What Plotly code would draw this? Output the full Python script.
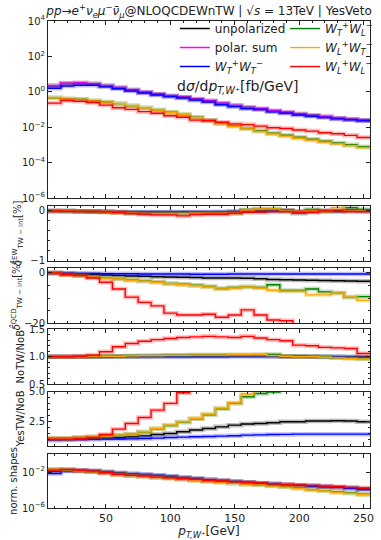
import plotly.graph_objects as go

# ---------------- data ----------------
bin_edges = [5, 15, 25, 35, 45, 55, 65, 75, 85, 95, 105, 115, 125, 135, 145,
             155, 165, 175, 185, 195, 205, 215, 225, 235, 245, 255]

series_names = ["unpolarized", "polar. sum",
                "<i>W</i><sub><i>T</i></sub><sup>+</sup><i>W</i><sub><i>T</i></sub><sup>−</sup>",
                "<i>W</i><sub><i>T</i></sub><sup>+</sup><i>W</i><sub><i>L</i></sub><sup>−</sup>",
                "<i>W</i><sub><i>L</i></sub><sup>+</sup><i>W</i><sub><i>T</i></sub><sup>−</sup>",
                "<i>W</i><sub><i>L</i></sub><sup>+</sup><i>W</i><sub><i>L</i></sub><sup>−</sup>"]

# main panel: dsigma/dpT [fb/GeV]
xs_unpol = [2.18, 2.95, 3.10, 2.82, 2.19, 1.70, 1.26, 0.935, 0.726, 0.577, 0.491, 0.381, 0.303,
            0.219, 0.167, 0.129, 0.108, 0.0834, 0.0678, 0.0551, 0.0459, 0.0390, 0.0318, 0.0276, 0.0246]
xs_sum = [2.24, 3.02, 3.16, 2.88, 2.24, 1.74, 1.29, 0.955, 0.741, 0.589, 0.501, 0.389, 0.309,
          0.224, 0.170, 0.132, 0.110, 0.0851, 0.0692, 0.0562, 0.0468, 0.0398, 0.0324, 0.0282, 0.0251]
xs_TT = [1.58, 2.14, 2.34, 2.34, 1.91, 1.48, 1.10, 0.851, 0.661, 0.537, 0.447, 0.339, 0.263,
         0.186, 0.145, 0.112, 0.100, 0.0741, 0.0617, 0.0490, 0.0417, 0.0355, 0.0295, 0.0263, 0.0229]
xs_TL = [0.457, 0.41, 0.38, 0.315, 0.265, 0.216, 0.163, 0.127, 0.095, 0.070, 0.052, 0.037, 0.025,
         0.0165, 0.0118, 0.0085, 0.0063, 0.0046, 0.0035, 0.0027, 0.0021, 0.0016, 0.00128, 0.00102, 0.00080]
xs_LT = [0.457, 0.398, 0.372, 0.309, 0.263, 0.214, 0.162, 0.126, 0.0933, 0.0692, 0.0510, 0.0355, 0.0240,
         0.0158, 0.0112, 0.00794, 0.00575, 0.00417, 0.00316, 0.00240, 0.00186, 0.00145, 0.00115, 0.000912, 0.000708]
xs_LL = [0.229, 0.324, 0.295, 0.251, 0.178, 0.126, 0.102, 0.0759, 0.0617, 0.0447, 0.0363, 0.0251, 0.0234,
         0.0191, 0.0155, 0.0141, 0.0115, 0.00933, 0.00851, 0.00692, 0.00603, 0.00490, 0.00427, 0.00347, 0.00263]

# EW TW-int correction [%]
ew_unpol = [0, 0, -0.005, -0.01, -0.015, -0.02, -0.025, -0.025, -0.025, -0.025, -0.025, -0.025, -0.025,
            -0.02, -0.01, 0.01, 0.02, 0.01, 0.015, -0.01, 0.0, 0.0, 0.0, 0.02, 0.0]
ew_TT = [0, 0, -0.005, -0.01, -0.015, -0.02, -0.02, -0.02, -0.02, -0.02, -0.02, -0.02, -0.02,
         -0.02, -0.02, 0.0, 0.0, 0.0, 0.0, -0.025, -0.01, 0.0, 0.0, 0.0, 0.0]
ew_TL = [0, 0, -0.005, -0.01, -0.02, -0.03, -0.04, -0.045, -0.045, -0.045, -0.045, -0.045, -0.045,
         -0.045, -0.045, 0.02, 0.04, 0.04, 0.0, -0.05, 0.03, 0.0, 0.0, 0.067, 0.03]
ew_LT = [0, 0, -0.005, -0.01, -0.02, -0.03, -0.04, -0.05, -0.05, -0.05, -0.05, -0.045, -0.045,
         -0.045, -0.04, 0.02, 0.04, 0.04, 0.0, -0.01, 0.0, -0.01, 0.067, 0.0, 0.0]
ew_LL = [0, -0.005, -0.01, -0.01, -0.015, -0.027, -0.053, -0.067, -0.08, -0.08, -0.1, -0.075, -0.067,
         -0.067, -0.047, -0.027, -0.027, -0.013, -0.013, -0.027, -0.027, 0.0, 0.0, -0.013, -0.013]

# QCD TW-int correction [%]
qcd_unpol = [0, -0.2, -0.4, -0.6, -0.8, -1.0, -1.2, -1.3, -1.5, -1.6, -1.7, -1.8, -2.0,
             -2.0, -2.0, -2.1, -2.3, -2.6, -2.7, -2.8, -2.9, -3.0, -3.1, -3.2, -3.3]
qcd_TT = [0, -0.1, -0.2, -0.2, -0.3, -0.3, -0.3, -0.4, -0.4, -0.4, -0.4, -0.5, -0.5,
          -0.5, -0.4, -0.4, -0.4, -0.4, -0.4, -0.4, -0.4, -0.4, -0.4, -0.4, -0.4]
qcd_TL = [0, -0.7, -1.0, -1.5, -1.9, -2.3, -2.8, -3.2, -3.6, -4.2, -4.5, -4.9, -5.4,
          -6.2, -5.8, -5.5, -5.8, -4.7, -7.0, -7.0, -6.4, -7.5, -8.0, -9.7, -9.4]
qcd_LT = [0, -0.7, -1.1, -1.6, -2.0, -2.4, -2.9, -3.3, -3.7, -4.3, -4.7, -5.1, -5.6,
          -6.4, -6.0, -5.6, -6.0, -6.9, -7.3, -7.3, -8.7, -8.7, -8.0, -9.6, -10.9]
qcd_LL = [0, -0.7, -1.0, -2.0, -3.7, -6.4, -9.6, -11.7, -13.1, -16.0, -16.7, -16.7, -16.4,
          -17.6, -16.7, -14.7, -16.7, -18.7, -19.0, -22.0, -23.0, -24.0, -25.0, -26.0, -27.0]

# NoTW / NoB
no_unpol = [1.0, 1.0, 1.0, 1.0, 1.005, 1.01, 1.01, 1.01, 1.015, 1.015, 1.015, 1.02, 1.02,
            1.02, 1.02, 1.02, 1.02, 1.015, 1.01, 1.01, 1.005, 1.0, 1.0, 0.995, 0.99]
no_TT = [1.0, 1.0, 1.0, 1.0, 1.0, 1.0, 1.0, 1.0, 1.0, 1.0, 1.0, 1.0, 1.0,
         1.0, 1.005, 1.005, 1.005, 1.005, 1.0, 1.0, 1.0, 1.0, 1.0, 0.995, 0.99]
no_TL = [1.0, 1.0, 1.0, 1.005, 1.01, 1.01, 1.015, 1.02, 1.02, 1.025, 1.025, 1.03, 1.03,
         1.03, 1.03, 1.03, 1.035, 1.04, 1.01, 1.0, 1.0, 1.0, 0.98, 0.975, 0.965]
no_LT = [1.0, 1.0, 1.0, 1.005, 1.01, 1.01, 1.015, 1.02, 1.02, 1.025, 1.025, 1.03, 1.03,
         1.03, 1.035, 1.035, 1.035, 1.02, 1.01, 1.0, 1.0, 0.99, 0.98, 0.97, 0.96]
no_LL = [1.0, 1.0, 1.01, 1.03, 1.09, 1.18, 1.24, 1.28, 1.31, 1.33, 1.35, 1.36, 1.37,
         1.36, 1.35, 1.37, 1.34, 1.31, 1.29, 1.21, 1.20, 1.17, 1.16, 1.15, 1.06]

# YesTW / NoB
yes_unpol = [1.06, 1.06, 1.08, 1.10, 1.14, 1.19, 1.25, 1.33, 1.44, 1.53, 1.67, 1.81, 1.94,
             2.08, 2.22, 2.31, 2.36, 2.42, 2.50, 2.50, 2.56, 2.56, 2.58, 2.56, 2.50]
yes_TT = [0.97, 1.0, 1.02, 1.04, 1.06, 1.07, 1.08, 1.11, 1.14, 1.19, 1.22, 1.25, 1.28,
          1.31, 1.34, 1.39, 1.41, 1.44, 1.45, 1.47, 1.47, 1.47, 1.47, 1.47, 1.47]
yes_TL = [1.11, 1.11, 1.19, 1.25, 1.31, 1.39, 1.47, 1.65, 1.92, 2.19, 2.47, 2.75, 3.08,
          3.58, 4.03, 4.58, 4.86, 4.98, 5.6, 6.1, 6.4, 6.7, 7.0, 7.2, 7.5]
yes_LT = [1.11, 1.11, 1.19, 1.25, 1.31, 1.39, 1.47, 1.67, 1.94, 2.22, 2.50, 2.78, 3.14,
          3.64, 4.08, 4.81, 5.4, 5.9, 6.3, 6.7, 7.0, 7.3, 7.6, 7.9, 8.2]
yes_LL = [1.06, 1.06, 1.11, 1.19, 1.44, 1.89, 2.36, 2.86, 3.47, 4.03, 4.92, 5.6, 6.3,
          7.0, 7.5, 8.0, 8.5, 9.0, 9.5, 10.0, 10.5, 11.0, 11.5, 12.0, 12.5]

# normalised shapes
sh_unpol = [0.0120, 0.0145, 0.0150, 0.0135, 0.0105, 0.0078, 0.0062, 0.0052, 0.0042, 0.0033, 0.0025, 0.0019, 0.00145,
            0.00115, 0.00090, 0.00072, 0.00058, 0.00048, 0.00040, 0.00033, 0.00028, 0.00024, 0.00020, 0.000165, 0.000135]
sh_TT = [0.00708, 0.0129, 0.0155, 0.0129, 0.0110, 0.00776, 0.00646, 0.00550, 0.00427, 0.00331, 0.00234, 0.00182, 0.00141,
         0.00110, 0.000851, 0.000708, 0.000550, 0.000468, 0.000389, 0.000331, 0.000275, 0.000234, 0.000200, 0.000155, 0.000117]
sh_TL = [0.0200, 0.0185, 0.0130, 0.0111, 0.0078, 0.0056, 0.0043, 0.0034, 0.0026, 0.0020, 0.00157, 0.00119, 0.00093,
         0.00072, 0.00057, 0.00045, 0.00039, 0.00030, 0.000235, 0.000172, 0.000112, 0.000087, 0.000062, 0.000048, 0.000034]
sh_LT = [0.0200, 0.0182, 0.0129, 0.0110, 0.00776, 0.00550, 0.00427, 0.00331, 0.00257, 0.00200, 0.00155, 0.00117, 0.000912,
         0.000708, 0.000550, 0.000427, 0.000363, 0.000275, 0.000214, 0.000155, 0.000100, 0.0000776, 0.0000550, 0.0000427, 0.0000302]
sh_LL = [0.0166, 0.0200, 0.0155, 0.0129, 0.00851, 0.00550, 0.00427, 0.00363, 0.00275, 0.00234, 0.00182, 0.00155, 0.00117,
         0.00100, 0.000851, 0.000708, 0.000603, 0.000501, 0.000427, 0.000363, 0.000331, 0.000275, 0.000234, 0.000200, 0.000166]

# ---------------- styling ----------------
COLORS = ["#000000", "#ff00ff", "#0000ff", "#008000", "#ffa500", "#ff0000"]
FONT = "DejaVu Sans"
W, H = 381, 540
L_PX, R_PX, T_PX, B_PX = 48, 378, 21, 512
PH = B_PX - T_PX
PW = R_PX - L_PX


def yfrac(py):
    return (B_PX - py) / PH


def xfrac(px):
    return (px - L_PX) / PW


panel_px = [(21, 199.5), (207.5, 262.5), (270, 325.7), (331.7, 387.3), (394.8, 449.3), (457.7, 512)]

fig = go.Figure()


def add_step(panel, vals, color, name=None, legend=None, rank=None):
    xa = "x" if panel == 1 else f"x{panel}"
    ya = "y" if panel == 1 else f"y{panel}"
    ys = list(vals) + [vals[-1]]
    fig.add_trace(go.Scatter(x=bin_edges, y=ys, mode="lines", line_shape="hv",
                             line=dict(color=color, width=4.5), opacity=0.25,
                             xaxis=xa, yaxis=ya, showlegend=False, hoverinfo="skip"))
    fig.add_trace(go.Scatter(x=bin_edges, y=ys, mode="lines", line_shape="hv",
                             line=dict(color=color, width=1.4),
                             xaxis=xa, yaxis=ya, name=name,
                             showlegend=name is not None, legend=legend,
                             legendrank=rank if rank else 1000))


main_sets = [xs_unpol, xs_sum, xs_TT, xs_TL, xs_LT, xs_LL]
legends = ["legend", "legend", "legend", "legend2", "legend2", "legend2"]
for i, vals in enumerate(main_sets):
    add_step(1, vals, COLORS[i], series_names[i], legends[i], i + 1)

ratio_panels = [
    (2, [ew_unpol, ew_TT, ew_TL, ew_LT, ew_LL]),
    (3, [qcd_unpol, qcd_TT, qcd_TL, qcd_LT, qcd_LL]),
    (4, [no_unpol, no_TT, no_TL, no_LT, no_LL]),
    (5, [yes_unpol, yes_TT, yes_TL, yes_LT, yes_LL]),
    (6, [sh_unpol, sh_TT, sh_TL, sh_LT, sh_LL]),
]
ratio_colors = [COLORS[0], COLORS[2], COLORS[3], COLORS[4], COLORS[5]]
for p, sets in ratio_panels:
    for c, vals in zip(ratio_colors, sets):
        add_step(p, vals, c)

axis_common = dict(showline=True, linecolor="#222222", linewidth=1, mirror="ticks",
                   ticks="inside", ticklen=4, tickwidth=1, tickcolor="#222222",
                   showgrid=False, zeroline=False,
                   tickfont=dict(family=FONT, size=11, color="#222222"))

x_tick_vals = [50, 100, 150, 200, 250]
layout = dict(width=W, height=H, plot_bgcolor="white", paper_bgcolor="white",
              margin=dict(l=L_PX, r=W - R_PX, t=T_PX, b=H - B_PX),
              font=dict(family=FONT, size=11, color="#222222"))

MINOR = dict(ticks="inside", ticklen=2, tickcolor="#222222")
y_specs = {
    1: dict(type="log", range=[-6, 4], tickvals=[1e-6, 1e-4, 1e-2, 1, 1e2, 1e4],
            ticktext=["10<sup>−6</sup>", "10<sup>−4</sup>", "10<sup>−2</sup>", "10<sup>0</sup>",
                      "10<sup>2</sup>", "10<sup>4</sup>"]),
    2: dict(range=[-1, 0.1], tickvals=[-1, 0], ticktext=["−1", "0"],
            minor=dict(MINOR, dtick=0.2, tick0=0)),
    3: dict(range=[-20, 2], tickvals=[-20, 0], ticktext=["−20", "0"],
            minor=dict(MINOR, dtick=5, tick0=0)),
    4: dict(range=[0.5, 1.5], tickvals=[0.5, 1.0, 1.5], ticktext=["0.5", "1.0", "1.5"],
            minor=dict(MINOR, dtick=0.1, tick0=0)),
    5: dict(range=[0.5, 5.0], tickvals=[2.5, 5.0], ticktext=["2.5", "5.0"],
            minor=dict(MINOR, dtick=0.5, tick0=0)),
    6: dict(type="log", range=[-6, 0], tickvals=[1e-6, 1e-2],
            ticktext=["10<sup>−6</sup>", "10<sup>−2</sup>"]),
}

for p in range(1, 7):
    top, bot = panel_px[p - 1]
    xkey = "xaxis" if p == 1 else f"xaxis{p}"
    ykey = "yaxis" if p == 1 else f"yaxis{p}"
    xa = dict(axis_common)
    xa.update(domain=[0, 1], range=[5, 255], tickvals=x_tick_vals,
              showticklabels=(p == 6), anchor="y" if p == 1 else f"y{p}",
              minor=dict(MINOR, dtick=10, tick0=0))
    if p != 1:
        xa["matches"] = "x"
    if p == 6:
        xa["title"] = dict(text="<i>p</i><sub><i>T,W</i>⁺</sub>[GeV]",
                           font=dict(family=FONT, size=12, color="#222222"), standoff=3)
    ya = dict(axis_common)
    ya.update(y_specs[p])
    ya["tickfont"] = dict(family=FONT, size=10, color="#222222")
    ya.update(domain=[yfrac(bot), yfrac(top)], anchor="x" if p == 1 else f"x{p}")
    layout[xkey] = xa
    layout[ykey] = ya

layout["title"] = dict(
    text="<i>pp</i>→<i>e</i><sup>+</sup><i>ν</i><sub><i>e</i></sub><i>μ</i><sup>−</sup>"
         "<i>ν̄</i><sub><i>μ</i></sub>@NLOQCDEWnTW | √<i>s</i> = 13TeV | YesVeto",
    x=0.5, xref="paper", xanchor="center", y=1 - 11 / H, yanchor="middle",
    font=dict(family=FONT, size=12, color="#222222"))

legend_common = dict(bgcolor="rgba(0,0,0,0)", borderwidth=0, orientation="v",
                     font=dict(family=FONT, size=12, color="#222222"),
                     xanchor="left", yanchor="top", tracegroupgap=0, itemwidth=30)
layout["legend"] = dict(legend_common, x=xfrac(178), y=yfrac(14))
layout["legend2"] = dict(legend_common, x=xfrac(291), y=yfrac(14))

ann = []
ann.append(dict(text="d<i>σ</i>/d<i>p</i><sub><i>T,W</i>⁺</sub>[fb/GeV]", xref="paper", yref="paper",
                x=xfrac(178), y=yfrac(88), xanchor="left", yanchor="middle", showarrow=False,
                font=dict(family=FONT, size=14, color="#222222")))
ytitles = [
    (2, "<i>δ̂</i><sup>EW</sup><sub>TW − int</sub>[%]", 17),
    (3, "<i>δ̂</i><sup>QCD</sup><sub>TW − int</sub>[%]", 16),
    (4, "NoTW/NoB", 20),
    (5, "YesTW/NoB", 20),
    (6, "norm. shapes", 12),
]
for p, txt, xp in ytitles:
    top, bot = panel_px[p - 1]
    ann.append(dict(text=txt, xref="paper", yref="paper", x=xfrac(xp), y=yfrac((top + bot) / 2),
                    xanchor="center", yanchor="middle", textangle=-90, showarrow=False,
                    font=dict(family=FONT, size=10, color="#222222")))
layout["annotations"] = ann

fig.update_layout(**layout)
fig.write_html("out.html", config={"displayModeBar": False},
               post_script="document.body.style.margin='0px';")
